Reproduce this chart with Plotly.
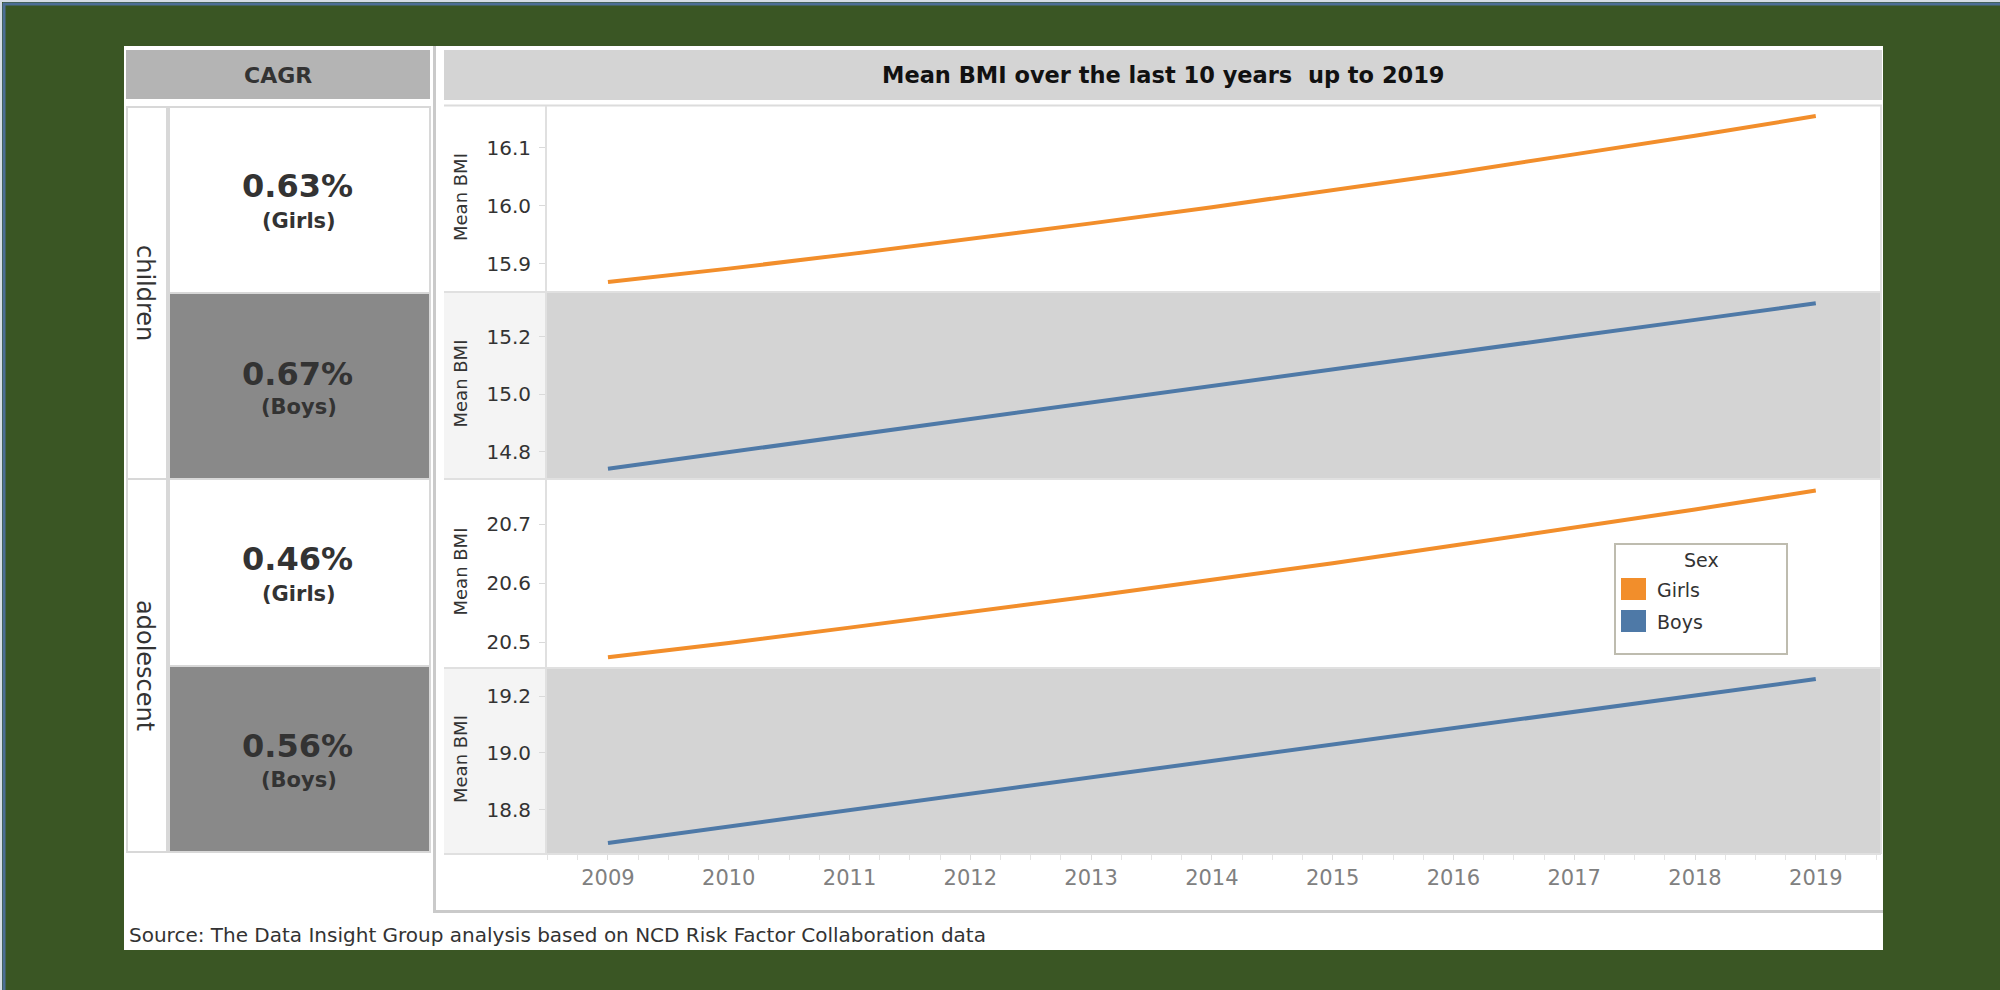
import plotly.graph_objects as go
from plotly.subplots import make_subplots

# ---------------- data ----------------
years = [2009, 2010, 2011, 2012, 2013, 2014, 2015, 2016, 2017, 2018, 2019]
children_girls = [15.869, 15.892, 15.917, 15.943, 15.970, 15.998, 16.027, 16.057, 16.089, 16.121, 16.155]
children_boys = [14.740, 14.798, 14.855, 14.913, 14.970, 15.028, 15.086, 15.143, 15.201, 15.258, 15.316]
adolescent_girls = [20.475, 20.499, 20.525, 20.551, 20.578, 20.606, 20.634, 20.664, 20.694, 20.725, 20.757]
adolescent_boys = [18.682, 18.740, 18.798, 18.856, 18.914, 18.971, 19.029, 19.087, 19.145, 19.203, 19.261]

age_groups = ["children", "adolescent"]
sexes = ["Girls", "Boys"]
cagr_values = [0.63, 0.67, 0.46, 0.56]          # children girls, children boys, adolescent girls, adolescent boys
y_ticks = [[15.9, 16.0, 16.1], [14.8, 15.0, 15.2], [20.5, 20.6, 20.7], [18.8, 19.0, 19.2]]
y_ranges = [[15.8517, 16.1724], [14.7043, 15.355], [20.4567, 20.7765], [18.6428, 19.300]]
x_range = [2008.487, 2019.54]

series = [children_girls, children_boys, adolescent_girls, adolescent_boys]
series_sex = ["Girls", "Boys", "Girls", "Boys"]
colors = {"Girls": "#F28E2B", "Boys": "#4E79A7"}

title_text = "Mean BMI over the last 10 years  up to 2019"
source_text = "Source: The Data Insight Group analysis based on NCD Risk Factor Collaboration data"

# ---------------- geometry helpers ----------------
W, H = 2000, 990
def PX(x):
    return x / W
def PY(y):
    return 1 - y / H

FONT = "DejaVu Sans"
row_edges = [106, 292, 479, 668, 854]
plot_x0, plot_x1 = 546, 1881
strip_x0 = 444

fig = make_subplots(rows=4, cols=1, shared_xaxes=True, vertical_spacing=0)

for i, (vals, sex) in enumerate(zip(series, series_sex)):
    fig.add_trace(
        go.Scatter(x=years, y=vals, mode="lines", name=sex,
                   line=dict(color=colors[sex], width=4),
                   showlegend=False, hoverinfo="x+y"),
        row=i + 1, col=1)

# axes
for i in range(4):
    top, bot = row_edges[i], row_edges[i + 1]
    yk = "yaxis" if i == 0 else f"yaxis{i+1}"
    xk = "xaxis" if i == 0 else f"xaxis{i+1}"
    fig.layout[yk].update(
        domain=[PY(bot), PY(top)], range=y_ranges[i],
        tickvals=y_ticks[i], ticktext=[f"{v:.1f}" for v in y_ticks[i]],
        ticks="outside", ticklen=6, tickcolor="#DADADA", tickwidth=1,
        ticklabelstandoff=4,
        showgrid=False, zeroline=False, showline=False,
        tickfont=dict(family=FONT, size=20, color="#333333"),
        fixedrange=True)
    xa = dict(domain=[PX(plot_x0), PX(plot_x1)], range=x_range,
              showgrid=False, zeroline=False, showline=False, fixedrange=True)
    if i == 3:
        xa.update(tickvals=years, ticktext=[str(y) for y in years],
                  ticks="outside", ticklen=5, tickcolor="#DCDCDC", tickwidth=1,
                  ticklabelstandoff=0,
                  minor=dict(dtick=0.25, tick0=2009, ticks="outside", ticklen=5,
                             tickcolor="#E4E4E4", tickwidth=1, showgrid=False),
                  showticklabels=True,
                  tickfont=dict(family=FONT, size=21, color="#808080"))
    else:
        xa.update(showticklabels=False, ticks="")
    fig.layout[xk].update(**xa)

shapes = []
def rect(x0, y0, x1, y1, fill=None, line=None, lw=0):
    shapes.append(dict(type="rect", xref="paper", yref="paper",
                       x0=PX(x0), x1=PX(x1), y0=PY(y1), y1=PY(y0),
                       fillcolor=fill if fill else "rgba(0,0,0,0)",
                       line=dict(color=line if line else "rgba(0,0,0,0)", width=lw),
                       layer="below"))
def hline(x0, x1, y, color, lw):
    shapes.append(dict(type="line", xref="paper", yref="paper",
                       x0=PX(x0), x1=PX(x1), y0=PY(y), y1=PY(y),
                       line=dict(color=color, width=lw), layer="below"))
def vline(x, y0, y1, color, lw):
    shapes.append(dict(type="line", xref="paper", yref="paper",
                       x0=PX(x), x1=PX(x), y0=PY(y0), y1=PY(y1),
                       line=dict(color=color, width=lw), layer="below"))

# outer frame
hline(0, W, 1, "#D5DCE5", 2)
vline(1, 0, H, "#D5DCE5", 2)
hline(3, W, 4, "#4C6E96", 3)
vline(4, 3, H, "#4C6E96", 3)

# white panel
rect(124, 46, 1883, 950, fill="#FFFFFF")
# CAGR header
rect(126, 50, 430, 99, fill="#B4B4B4")
# row label cells
rect(127, 107, 167, 479, fill="#FFFFFF", line="#D8D8D8", lw=2)
rect(127, 479, 167, 852, fill="#FFFFFF", line="#D8D8D8", lw=2)
# cards
card_rows = [(107, 293), (293, 479), (479, 666), (666, 852)]
for i, (t, b) in enumerate(card_rows):
    if series_sex[i] == "Girls":
        rect(169, t, 430, b, fill="#FFFFFF", line="#D8D8D8", lw=2)
    else:
        rect(169, t, 430, b, fill="#898989", line="#D8D8D8", lw=2)

# right panel frame (L shape)
vline(434.5, 46, 912, "#CACACA", 3)
hline(433, 1883, 911.5, "#CACACA", 3)
# title bar
rect(444, 50, 1882, 100, fill="#D4D4D4")
hline(444, 1882, 105.5, "#DCDCDC", 2)

# row backgrounds
for i in range(4):
    t, b = row_edges[i], row_edges[i + 1]
    if i % 2 == 1:
        rect(strip_x0, t, plot_x0, b, fill="#F4F4F4")
        rect(plot_x0, t, plot_x1, b, fill="#D4D4D4")
for y in row_edges[1:]:
    hline(strip_x0, plot_x1, y, "#E0E0E0", 2)
vline(plot_x0, 106, 854, "#E0E0E0", 2)
vline(plot_x1, 106, 854, "#E0E0E0", 2)

# legend box (manual)
rect(1615, 544, 1787, 654, fill="#FFFFFF", line="#BEBCAF", lw=2)
shapes.append(dict(type="rect", xref="paper", yref="paper",
                   x0=PX(1621), x1=PX(1646), y0=PY(600), y1=PY(578),
                   fillcolor=colors["Girls"], line=dict(width=0), layer="above"))
shapes.append(dict(type="rect", xref="paper", yref="paper",
                   x0=PX(1621), x1=PX(1646), y0=PY(632), y1=PY(610),
                   fillcolor=colors["Boys"], line=dict(width=0), layer="above"))

annotations = []
def text(x, y, s, size, color="#333333", bold=False, xanchor="center", angle=0):
    annotations.append(dict(x=PX(x), y=PY(y), xref="paper", yref="paper",
                            text=s, showarrow=False, xanchor=xanchor, yanchor="middle",
                            textangle=angle,
                            font=dict(family=FONT, size=size, color=color,
                                      weight="bold" if bold else "normal")))

text(278, 75, "CAGR", 22, color="#333333", bold=True)
text(1163, 75, title_text, 22.5, color="#111111", bold=True)
text(145, 293, age_groups[0], 24, angle=90)
text(145, 665, age_groups[1], 24, angle=90)

big_y = [186, 374, 559, 746]
small_y = [221, 407, 594, 780]
for i in range(4):
    text(297, big_y[i], f"{cagr_values[i]:.2f}%", 32, color="#333333", bold=True)
    text(299, small_y[i], f"({series_sex[i]})", 21, color="#333333", bold=True)

for i in range(4):
    t, b = row_edges[i], row_edges[i + 1]
    text(460, (t + b) / 2 - 2, "Mean BMI", 18, color="#333333", angle=-90)

text(127, 935, source_text, 20, color="#333333", xanchor="left")

# legend texts
text(1701, 560, "Sex", 19, color="#333333")
text(1655, 590, sexes[0], 19, color="#333333", xanchor="left")
text(1655, 622, sexes[1], 19, color="#333333", xanchor="left")

fig.update_layout(
    width=W, height=H, margin=dict(l=0, r=0, t=0, b=0),
    paper_bgcolor="#3A5624", plot_bgcolor="rgba(0,0,0,0)",
    showlegend=False, shapes=shapes, annotations=annotations,
    font=dict(family=FONT),
)

fig.write_html("out.html", config={"displayModeBar": False},
               post_script="document.body.style.margin='0';document.body.style.overflow='hidden';")
